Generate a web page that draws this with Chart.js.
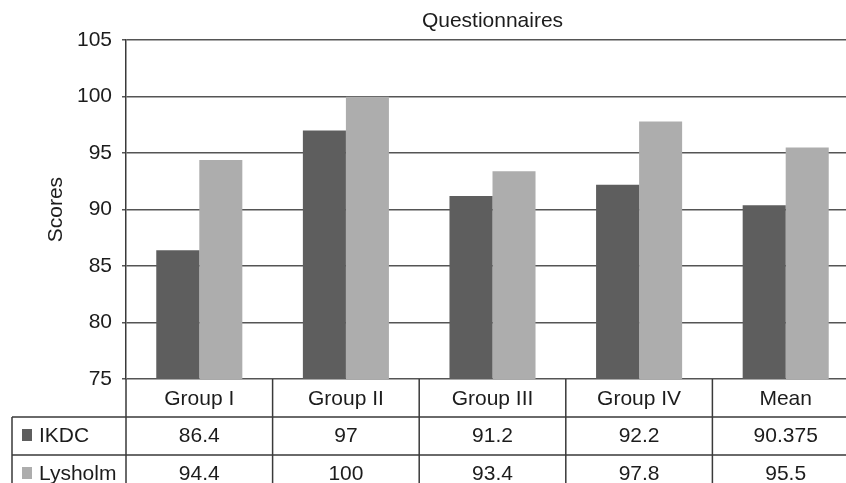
<!DOCTYPE html>
<html>
<head>
<meta charset="utf-8">
<script src="https://cdn.jsdelivr.net/npm/chart.js@4/dist/chart.umd.min.js"></script>
<style>
  html, body { margin: 0; padding: 0; overflow: hidden; background: #fff; width: 846px; height: 483px; }
  canvas { display: block; }
</style>
</head>
<body>
<canvas id="c" width="859" height="495"></canvas>
<script>
// Questionnaire scores per group
const categories = ['Group I', 'Group II', 'Group III', 'Group IV', 'Mean'];
const ikdc = [86.4, 97, 91.2, 92.2, 90.375];
const lysholm = [94.4, 100, 93.4, 97.8, 95.5];
const seriesNames = ['IKDC', 'Lysholm'];
const yMin = 75, yMax = 105, yStep = 5;

const FONT = '"Liberation Sans", Arial, Helvetica, sans-serif';
const TEXT = '#1c1c1c';
const LINE = '#3a3a3a';
const DARK = '#5e5e5e';
const LIGHT = '#adadad';

Chart.defaults.font.family = FONT;
Chart.defaults.font.size = 21;
Chart.defaults.color = TEXT;

// Data table under the plot: category row, then one row per series
const dataTable = {
  id: 'dataTable',
  afterDraw(chart) {
    const { ctx, chartArea: a, scales: { x } } = chart;
    const rowH = 38;
    const top = a.bottom;
    const bottom = chart.height;
    const labelLeft = 12;
    const step = x.getPixelForValue(1) - x.getPixelForValue(0);
    const rows = [ikdc, lysholm];

    ctx.save();
    ctx.strokeStyle = LINE;
    ctx.lineWidth = 1.5;
    ctx.beginPath();
    // row separators
    for (let r = 1; r <= rows.length; r++) {
      const y = top + r * rowH;
      ctx.moveTo(labelLeft, y);
      ctx.lineTo(chart.width, y);
    }
    // column separators
    for (let i = 0; i <= categories.length; i++) {
      const xp = x.getPixelForValue(i) - step / 2;
      ctx.moveTo(xp, top);
      ctx.lineTo(xp, bottom);
    }
    // left edge of the series-name column
    ctx.moveTo(labelLeft, top + rowH);
    ctx.lineTo(labelLeft, bottom);
    ctx.stroke();

    ctx.fillStyle = TEXT;
    ctx.font = '21px ' + FONT;
    ctx.textAlign = 'center';
    ctx.textBaseline = 'middle';
    categories.forEach((c, i) => {
      ctx.fillText(c, x.getPixelForValue(i), top + rowH / 2 + 1);
    });
    rows.forEach((vals, r) => {
      const cy = top + (r + 1.5) * rowH;
      vals.forEach((v, i) => ctx.fillText(String(v), x.getPixelForValue(i), cy));
    });

    // series keys
    ctx.textAlign = 'left';
    const colors = chart.data.datasets.map(d => d.backgroundColor);
    seriesNames.forEach((n, r) => {
      const cy = top + (r + 1.5) * rowH;
      ctx.fillStyle = colors[r];
      ctx.fillRect(22, cy - 7, 10, 12);
      ctx.fillStyle = TEXT;
      ctx.fillText(n, 39, cy);
    });
    ctx.restore();
  }
};

new Chart(document.getElementById('c'), {
  type: 'bar',
  data: {
    labels: categories,
    datasets: [
      { label: seriesNames[0], data: ikdc, backgroundColor: DARK },
      { label: seriesNames[1], data: lysholm, backgroundColor: LIGHT }
    ]
  },
  options: {
    responsive: false,
    devicePixelRatio: 1,
    animation: false,
    layout: { padding: { left: 0, right: 0, top: 0, bottom: 116 } },
    datasets: { bar: { categoryPercentage: 0.587, barPercentage: 1.0 } },
    plugins: {
      legend: { display: false },
      tooltip: { enabled: false },
      title: {
        display: true,
        text: 'Questionnaires',
        fullSize: false,
        color: TEXT,
        font: { size: 21, weight: 'normal' },
        padding: { top: 9, bottom: 6 }
      }
    },
    scales: {
      x: { display: false },
      y: {
        min: yMin,
        max: yMax,
        afterFit(scale) { scale.width = 126; },
        ticks: { stepSize: yStep, padding: 10, color: TEXT, font: { size: 21 } },
        grid: { color: '#555', lineWidth: 1.5, tickLength: 4 },
        border: { color: LINE, width: 1.5 },
        title: {
          display: true,
          text: 'Scores',
          color: TEXT,
          font: { size: 21 },
          padding: { top: 44, bottom: 0 }
        }
      }
    }
  },
  plugins: [dataTable]
});
</script>
</body>
</html>
